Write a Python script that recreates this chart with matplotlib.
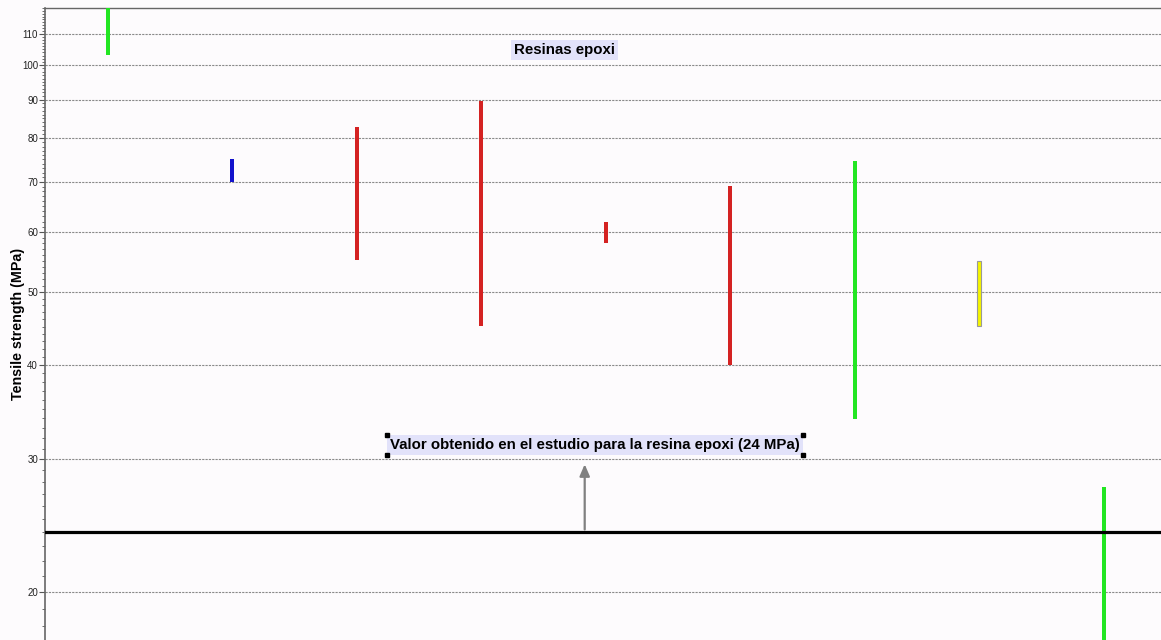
import matplotlib.pyplot as plt
from matplotlib.ticker import FixedLocator, MultipleLocator, NullFormatter
import numpy as np

plt.rcParams['font.family'] = ['Liberation Sans', 'DejaVu Sans']

# strength ranges (MPa) for each material, low / high
positions = [0, 1, 2, 3, 4, 5, 6, 7, 8]
low = [103.2, 70.0, 55.1, 45.1, 58.1, 40.0, 33.9, 45.1, 15.0]
high = [130.0, 75.1, 82.8, 89.6, 61.9, 69.1, 74.6, 55.0, 27.6]
colors = ['#22e622', '#1212cc', '#d42222', '#d42222', '#d42222',
          '#d42222', '#22e622', '#f5f500', '#22e622']
edges = ['none'] * 7 + ['#999999', 'none']

study_value = 24
major_ticks = [20, 30, 40, 50, 60, 70, 80, 90, 100, 110]

bg = '#fdfbfd'
fig = plt.figure(figsize=(11.61, 6.40), dpi=100, facecolor=bg)
ax = fig.add_axes([45 / 1161, 0, 1116 / 1161, 632 / 640], facecolor=bg)

ax.set_yscale('log')
ax.set_ylim(17.27, 119.1)
ax.set_xlim(-0.506, 8.46)

for y in major_ticks:
    ax.axhline(y, color='#8a8a8a', lw=0.8, ls=(0, (2, 1)), zorder=1)

heights = np.array(high) - np.array(low)
ax.bar(positions, heights, bottom=low, width=0.032, color=colors,
       edgecolor=edges, linewidth=0.8, zorder=3)

ax.axhline(study_value, color='black', lw=2.3, zorder=4)

ax.annotate('', xy=(3.83, 29.8), xytext=(3.83, study_value),
            arrowprops=dict(arrowstyle='-|>,head_length=0.7,head_width=0.3',
                            color='#808080', lw=1.6), zorder=5)

box = dict(boxstyle='square,pad=0.2', fc='#e2e2fa', ec='none')
ax.text(3.67, 104.8, 'Resinas epoxi', ha='center', va='center',
        fontsize=10.8, fontweight='bold', bbox=box, zorder=6)
note = ax.text(3.91, 31.3, 'Valor obtenido en el estudio para la resina epoxi (24 MPa)',
               ha='center', va='center', fontsize=10.8, fontweight='bold',
               bbox=box, zorder=6)

ax.set_ylabel('Tensile strength (MPa)', fontsize=10.3, fontweight='bold')
ax.yaxis.set_label_coords(-0.0175, 0.5)

ax.yaxis.set_major_locator(FixedLocator(major_ticks))
ax.yaxis.set_minor_locator(MultipleLocator(1))
ax.yaxis.set_minor_formatter(NullFormatter())
ax.set_yticklabels([str(v) for v in major_ticks])
ax.tick_params(axis='y', which='major', length=4, width=0.8, labelsize=7, pad=1,
               color='#555555', labelcolor='#222222')
ax.tick_params(axis='y', which='minor', length=2.5, width=0.6, color='#555555')
ax.set_xticks([])

for side in ['right', 'bottom']:
    ax.spines[side].set_visible(False)
ax.spines['left'].set_color('#666666')
ax.spines['left'].set_linewidth(1.2)
ax.spines['top'].set_color('#666666')
ax.spines['top'].set_linewidth(1.0)

# selection handles at the corners of the note box
fig.canvas.draw()
bb = note.get_bbox_patch().get_window_extent()
inv = fig.transFigure.inverted()
for cx in (bb.x0, bb.x1):
    for cy in (bb.y0, bb.y1):
        fx, fy = inv.transform((cx, cy))
        fig.add_artist(plt.Line2D([fx], [fy], marker='s', ms=2.2, color='black',
                                  transform=fig.transFigure))

fig.savefig('out.png', dpi=100, facecolor=bg)
